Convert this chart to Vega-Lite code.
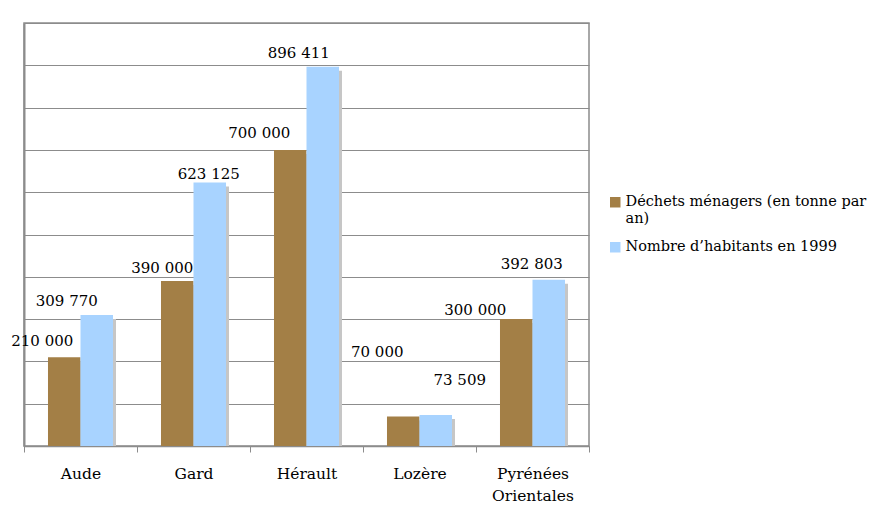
{
  "$schema": "https://vega.github.io/schema/vega-lite/v6.json",
  "autosize": {"type": "none"},
  "width": 565,
  "height": 423,
  "padding": {"left": 24, "top": 23, "right": 283, "bottom": 73},
  "background": "white",
  "config": {
    "font": "DejaVu Serif",
    "locale": {"number": {"decimal": ",", "thousands": " ", "grouping": [3], "currency": ["", " €"]}},
    "view": {"stroke": "#8c8c8c", "strokeWidth": 1.5},
    "text": {"font": "DejaVu Serif", "fontSize": 15, "baseline": "middle"}
  },
  "data": {
    "values": [
      {"dep": "Aude", "serie": "Déchets ménagers (en tonne par an)", "v": 210000},
      {"dep": "Aude", "serie": "Nombre d’habitants en 1999", "v": 309770},
      {"dep": "Gard", "serie": "Déchets ménagers (en tonne par an)", "v": 390000},
      {"dep": "Gard", "serie": "Nombre d’habitants en 1999", "v": 623125},
      {"dep": "Hérault", "serie": "Déchets ménagers (en tonne par an)", "v": 700000},
      {"dep": "Hérault", "serie": "Nombre d’habitants en 1999", "v": 896411},
      {"dep": "Lozère", "serie": "Déchets ménagers (en tonne par an)", "v": 70000},
      {"dep": "Lozère", "serie": "Nombre d’habitants en 1999", "v": 73509},
      {"dep": "Pyrénées Orientales", "serie": "Déchets ménagers (en tonne par an)", "v": 300000},
      {"dep": "Pyrénées Orientales", "serie": "Nombre d’habitants en 1999", "v": 392803}
    ]
  },
  "encoding": {
    "x": {
      "field": "dep", "type": "nominal", "sort": null,
      "scale": {"paddingInner": 0, "paddingOuter": 0},
      "axis": {
        "title": null, "labelAngle": 0, "labelFont": "DejaVu Serif", "labelFontSize": 15.5,
        "labelColor": "#000", "labelPadding": 14, "tickBand": "extent", "tickSize": 6,
        "tickColor": "#8c8c8c", "domainColor": "#8c8c8c", "domainWidth": 1.5, "grid": false,
        "labelExpr": "datum.label == 'Pyrénées Orientales' ? ['Pyrénées', 'Orientales'] : datum.label",
        "labelLineHeight": 22
      }
    },
    "y": {
      "field": "v", "type": "quantitative",
      "scale": {"domain": [0, 1000000], "nice": false},
      "axis": {
        "title": null, "labels": false, "ticks": false, "tickCount": 10,
        "gridColor": "#8c8c8c", "gridWidth": 1, "domainColor": "#8c8c8c", "domainWidth": 2
      }
    }
  },
  "resolve": {"scale": {"xOffset": "independent"}},
  "layer": [
    {
      "mark": {"type": "bar", "color": "#c6c6c6", "yOffset": 4, "clip": true},
      "encoding": {
        "xOffset": {"field": "serie", "type": "nominal", "sort": null, "scale": {"paddingInner": 0, "paddingOuter": 0.738, "align": 0.5625}}
      }
    },
    {
      "layer": [
        {
          "mark": {"type": "bar"},
          "encoding": {
            "color": {
              "field": "serie", "type": "nominal", "sort": null,
              "scale": {"domain": ["Déchets ménagers (en tonne par an)", "Nombre d’habitants en 1999"], "range": ["#a37f46", "#a8d3ff"]},
              "legend": {
                "title": null, "orient": "none", "legendX": 584, "legendY": 172,
                "symbolType": "square", "symbolSize": 110, "symbolStrokeWidth": 0,
                "labelFont": "DejaVu Serif", "labelFontSize": 14.5, "labelColor": "#000",
                "labelLimit": 300, "labelOffset": 3, "rowPadding": 13,
                "labelExpr": "datum.label == 'Déchets ménagers (en tonne par an)' ? ['Déchets ménagers (en tonne par', 'an)'] : datum.label"
              }
            }
          }
        },
        {"transform": [{"filter": "datum.dep == 'Aude' && datum.v == 210000"}], "mark": {"type": "text", "dx": -22, "dy": -16}, "encoding": {"text": {"field": "v", "type": "quantitative", "format": ",d"}}},
        {"transform": [{"filter": "datum.dep == 'Aude' && datum.v == 309770"}], "mark": {"type": "text", "dx": -30, "dy": -14}, "encoding": {"text": {"field": "v", "type": "quantitative", "format": ",d"}}},
        {"transform": [{"filter": "datum.dep == 'Gard' && datum.v == 390000"}], "mark": {"type": "text", "dx": -15, "dy": -13}, "encoding": {"text": {"field": "v", "type": "quantitative", "format": ",d"}}},
        {"transform": [{"filter": "datum.dep == 'Gard' && datum.v == 623125"}], "mark": {"type": "text", "dx": -1, "dy": -8}, "encoding": {"text": {"field": "v", "type": "quantitative", "format": ",d"}}},
        {"transform": [{"filter": "datum.dep == 'Hérault' && datum.v == 700000"}], "mark": {"type": "text", "dx": -31, "dy": -17}, "encoding": {"text": {"field": "v", "type": "quantitative", "format": ",d"}}},
        {"transform": [{"filter": "datum.dep == 'Hérault' && datum.v == 896411"}], "mark": {"type": "text", "dx": -24, "dy": -14}, "encoding": {"text": {"field": "v", "type": "quantitative", "format": ",d"}}},
        {"transform": [{"filter": "datum.dep == 'Lozère' && datum.v == 70000"}], "mark": {"type": "text", "dx": -26, "dy": -64}, "encoding": {"text": {"field": "v", "type": "quantitative", "format": ",d"}}},
        {"transform": [{"filter": "datum.dep == 'Lozère' && datum.v == 73509"}], "mark": {"type": "text", "dx": 24, "dy": -35}, "encoding": {"text": {"field": "v", "type": "quantitative", "format": ",d"}}},
        {"transform": [{"filter": "datum.dep == 'Pyrénées Orientales' && datum.v == 300000"}], "mark": {"type": "text", "dx": -41, "dy": -9}, "encoding": {"text": {"field": "v", "type": "quantitative", "format": ",d"}}},
        {"transform": [{"filter": "datum.dep == 'Pyrénées Orientales' && datum.v == 392803"}], "mark": {"type": "text", "dx": -17, "dy": -16}, "encoding": {"text": {"field": "v", "type": "quantitative", "format": ",d"}}}
      ],
      "encoding": {
        "xOffset": {"field": "serie", "type": "nominal", "sort": null, "scale": {"paddingInner": 0, "paddingOuter": 0.738}}
      }
    }
  ]
}
